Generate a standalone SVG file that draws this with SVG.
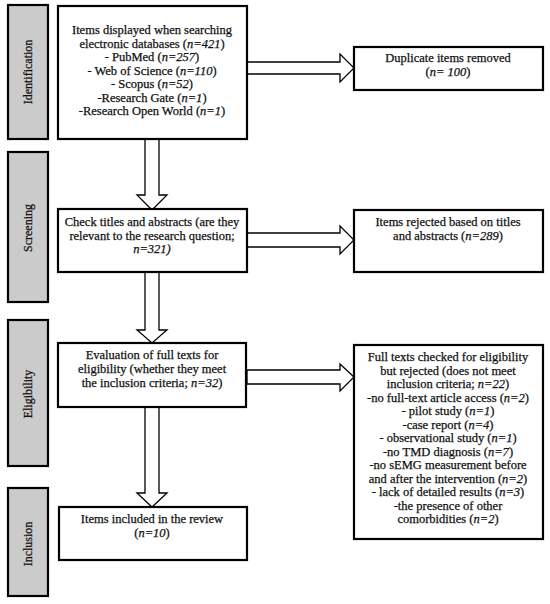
<svg xmlns="http://www.w3.org/2000/svg" width="550" height="604" viewBox="0 0 550 604">
<style>
.side{fill:#cbcbcb;stroke:#000;stroke-width:2.2}
.box{fill:#fff;stroke:#000;stroke-width:2.2}
.arr{fill:#fff;stroke:#000;stroke-width:1.3;stroke-linejoin:miter}
text{font-family:"Liberation Serif","Times New Roman",serif;font-size:12.5px;fill:#111;stroke:#111;stroke-width:0.25;text-anchor:middle}
.lab{font-size:12px}
.i{font-style:italic}
</style>
<rect width="550" height="604" fill="#fff"/>
<g id="phase-identification"><rect class="side" x="8" y="5" width="40" height="134"/><text class="lab" transform="translate(32,72) rotate(-90)">Identification</text></g>
<g id="phase-screening"><rect class="side" x="8" y="152" width="40" height="150"/><text class="lab" transform="translate(32,228) rotate(-90)">Screening</text></g>
<g id="phase-eligibility"><rect class="side" x="8" y="320" width="40" height="146"/><text class="lab" transform="translate(32,394) rotate(-90)">Eligibility</text></g>
<g id="phase-inclusion"><rect class="side" x="8" y="488" width="40" height="108"/><text class="lab" transform="translate(32,544) rotate(-90)">Inclusion</text></g>
<g id="connectors">
<polygon class="arr" points="247,62 340,62 340,54 354,68 340,82 340,74 247,74"/>
<polygon class="arr" points="247,233 340,233 340,226 354,240 340,254 340,247 247,247"/>
<polygon class="arr" points="247,370 340,370 340,364 354,377 340,391 340,384 247,384"/>
<polygon class="arr" points="145,139 145,195 137,195 152,210 167,195 159,195 159,139"/>
<polygon class="arr" points="145,272 145,330 137,330 152,343 167,330 159,330 159,272"/>
<polygon class="arr" points="145,407 145,493 137,493 152,507 167,493 159,493 159,407"/>
</g>
<g id="node-identification"><rect class="box" x="58" y="6" width="189" height="133"/>
<text x="152" y="34">Items displayed when searching</text>
<text x="152" y="47.5">electronic databases (<tspan class="i">n=421</tspan>)</text>
<text x="152" y="61">- PubMed (<tspan class="i">n=257</tspan>)</text>
<text x="152" y="74.5">- Web of Science (<tspan class="i">n=110</tspan>)</text>
<text x="152" y="88">- Scopus (<tspan class="i">n=52</tspan>)</text>
<text x="152" y="101.5">-Research Gate (<tspan class="i">n=1</tspan>)</text>
<text x="152" y="115">-Research Open World (<tspan class="i">n=1</tspan>)</text>
</g>
<g id="node-duplicates"><rect class="box" x="354" y="47" width="189" height="43"/>
<text x="448" y="62">Duplicate items removed</text>
<text x="448" y="76">(<tspan class="i">n= 100</tspan>)</text>
</g>
<g id="node-screening"><rect class="box" x="58" y="209" width="189" height="63"/>
<text x="152" y="226">Check titles and abstracts (are they</text>
<text x="152" y="239.5">relevant to the research question;</text>
<text x="152" y="253" class="i">n=321)</text>
</g>
<g id="node-rejected-titles"><rect class="box" x="354" y="210" width="189" height="62"/>
<text x="448" y="226">Items rejected based on titles</text>
<text x="448" y="240">and abstracts (<tspan class="i">n=289</tspan>)</text>
</g>
<g id="node-eligibility"><rect class="box" x="58" y="343" width="188" height="64"/>
<text x="152" y="359">Evaluation of full texts for</text>
<text x="152" y="373">eligibility (whether they meet</text>
<text x="152" y="387">the inclusion criteria; <tspan class="i">n=32</tspan>)</text>
</g>
<g id="node-rejected-fulltext"><rect class="box" x="354" y="345" width="189" height="194"/>
<text x="448" y="361">Full texts checked for eligibility</text>
<text x="448" y="374.5">but rejected (does not meet</text>
<text x="448" y="388">inclusion criteria; <tspan class="i">n=22</tspan>)</text>
<text x="448" y="401.5">-no full-text article access (<tspan class="i">n=2</tspan>)</text>
<text x="448" y="415">- pilot study (<tspan class="i">n=1</tspan>)</text>
<text x="448" y="428.5">-case report (<tspan class="i">n=4</tspan>)</text>
<text x="448" y="442">- observational study (<tspan class="i">n=1</tspan>)</text>
<text x="448" y="455.5">-no TMD diagnosis (<tspan class="i">n=7</tspan>)</text>
<text x="448" y="469">-no sEMG measurement before</text>
<text x="448" y="482.5">and after the intervention (<tspan class="i">n=2</tspan>)</text>
<text x="448" y="496">- lack of detailed results (<tspan class="i">n=3</tspan>)</text>
<text x="448" y="509.5">-the presence of other</text>
<text x="448" y="523">comorbidities (<tspan class="i">n=2</tspan>)</text>
</g>
<g id="node-included"><rect class="box" x="59" y="507" width="188" height="53"/>
<text x="152" y="523">Items included in the review</text>
<text x="152" y="537">(<tspan class="i">n=10</tspan>)</text>
</g>
</svg>
